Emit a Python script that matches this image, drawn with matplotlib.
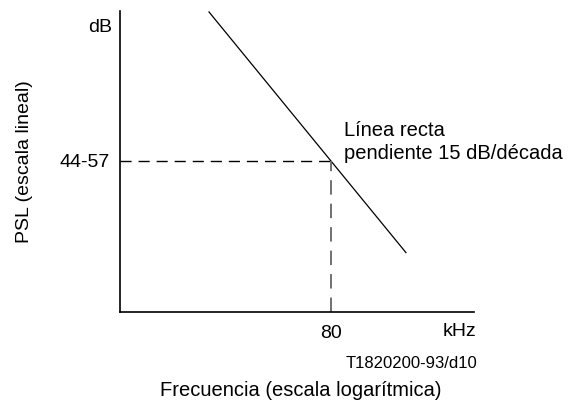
import matplotlib
matplotlib.use('Agg')
from matplotlib import pyplot as plt

# data (frequency in kHz on log scale, PSL in dB)
line_freq = [24.1, 167.0]
line_psl = [57.8, 45.2]
ref_freq = 80
ref_psl = 50
x_tick_labels = ['80']
y_tick_labels = ['44-57']

plt.rcParams['font.family'] = ['Liberation Sans', 'DejaVu Sans']

fig = plt.figure(figsize=(5.68, 4.08), dpi=100)
ax = fig.add_axes([119.5 / 568, 1 - 312 / 408, (474 - 119.5) / 568, (312 - 11) / 408])

ax.set_xscale('log')
ax.set_xlim(10, 326)
ax.set_ylim(42.09, 57.85)

ax.plot(line_freq, line_psl, c='black', lw=0.9)
ax.plot([10, ref_freq], [ref_psl, ref_psl], c='black', lw=1.0, ls=(0, (8, 5)))
ax.plot([ref_freq, ref_freq], [42.09, ref_psl], c='#666666', lw=1.3, ls=(0, (8, 5)))

for side in ['top', 'right']:
    ax.spines[side].set_visible(False)
for side in ['left', 'bottom']:
    ax.spines[side].set_linewidth(1.2)

ax.set_xticks([ref_freq])
ax.set_xticklabels(x_tick_labels, fontsize=14)
ax.xaxis.set_minor_locator(matplotlib.ticker.NullLocator())
ax.set_yticks([ref_psl])
ax.set_yticklabels(y_tick_labels, fontsize=14)
ax.tick_params(axis='x', length=0, pad=9)
ax.tick_params(axis='y', length=0, pad=7)

fig.text(112 / 568, 1 - 27 / 408, 'dB', ha='right', va='center', fontsize=14)
fig.text(476 / 568, 1 - 332 / 408, 'kHz', ha='right', va='center', fontsize=14)
fig.text(477 / 568, 1 - 363 / 408, 'T1820200-93/d10', ha='right', va='center', fontsize=12)
fig.text(301 / 568, 1 - 391 / 408, 'Frecuencia (escala logarítmica)', ha='center', va='center', fontsize=14.5)
fig.text(24.5 / 568, 1 - 162 / 408, 'PSL (escala lineal)', ha='center', va='center',
         rotation=90, fontsize=14)
fig.text(344 / 568, 1 - 142 / 408, 'Línea recta\npendiente 15 dB/década', ha='left', va='center',
         fontsize=14.5, linespacing=1.25)

fig.savefig('out.png', dpi=100)
